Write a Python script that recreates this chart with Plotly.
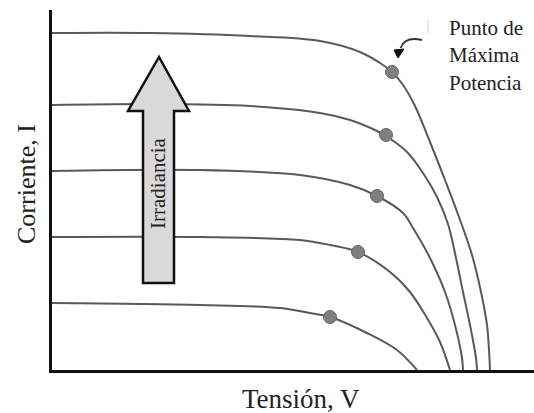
import plotly.graph_objects as go

# I-V curves (arbitrary units), highest irradiance first
v1 = [0, 9.8, 19.8, 26.8, 30.8, 32.8, 34.0, 35.1, 36.3, 37.8, 39.3, 40.7, 42.0, 42.9, 43.5, 43.7, 43.8]
i1 = [8.425, 8.425, 8.35, 8.225, 7.95, 7.675, 7.45, 7.125, 6.6, 5.7, 4.75, 3.825, 2.875, 1.95, 1.125, 0.5, 0]
v2 = [0, 9.8, 19.8, 26.8, 29.8, 32.3, 33.4, 35.5, 37.1, 38.5, 39.6, 40.4, 41.1, 41.8, 42.4, 42.5]
i2 = [6.625, 6.65, 6.6, 6.425, 6.25, 6.0, 5.85, 5.45, 4.925, 4.325, 3.65, 2.8, 1.95, 1.125, 0.3, 0]
v3 = [0, 14.8, 24.8, 29.8, 32.5, 35.1, 36.1, 37.8, 39.3, 40.3, 41.0, 41.1]
i3 = [4.975, 5.0, 4.875, 4.625, 4.35, 3.925, 3.55, 2.8, 1.95, 1.125, 0.3, 0]
v4 = [0, 14.8, 24.8, 27.8, 30.6, 33.8, 35.8, 37.5, 38.8, 39.8]
i4 = [3.325, 3.325, 3.25, 3.125, 2.95, 2.45, 1.95, 1.3, 0.7, 0]
v5 = [0, 14.8, 22.8, 25.8, 27.8, 31.5, 34.5, 36.5]
i5 = [1.675, 1.625, 1.55, 1.425, 1.325, 0.925, 0.5, 0]

# maximum power points
mpp_v = [34.0, 33.4, 32.5, 30.6, 27.8]
mpp_i = [7.45, 5.875, 4.35, 2.95, 1.325]

FONT = "Liberation Serif, Times New Roman, serif"
LINE = "#595959"

fig = go.Figure()
for v, i in [(v1, i1), (v2, i2), (v3, i3), (v4, i4), (v5, i5)]:
    fig.add_trace(go.Scatter(x=v, y=i, mode="lines",
                             line=dict(color=LINE, width=2, shape="spline", smoothing=1.0),
                             hoverinfo="skip", showlegend=False))

fig.add_trace(go.Scatter(x=mpp_v, y=mpp_i, mode="markers",
                         marker=dict(size=13, color="#808080", line=dict(color="#666666", width=1)),
                         showlegend=False, hoverinfo="skip"))

shapes = [
    # Irradiance arrow
    dict(type="path", xref="x", yref="y", layer="above",
         path="M 9.1,2.175 L 9.1,6.475 L 7.6,6.475 L 10.7,7.825 L 13.7,6.475 L 12.2,6.475 L 12.2,2.175 Z",
         fillcolor="#d9d9d9", line=dict(color="#111111", width=2.5)),
    # curved pointer to MPP
    dict(type="path", xref="x", yref="y",
         path="M 37.0,8.25 Q 35.3,8.35 34.85,8.05",
         line=dict(color="#333333", width=1.8)),
    dict(type="path", xref="x", yref="y",
         path="M 34.2,8.0 L 35.2,8.025 L 34.6,7.8 Z",
         fillcolor="#111111", line=dict(color="#111111", width=1)),
    # faint artifact tick
    dict(type="line", xref="x", yref="y", x0=37.6, x1=37.6, y0=8.425, y1=8.75,
         line=dict(color="#d0d0d0", width=1)),
]

annotations = [
    dict(text="Irradiancia", x=10.6, y=4.675, xref="x", yref="y", textangle=-90,
         xanchor="center", yanchor="middle",
         showarrow=False, font=dict(family=FONT, size=21, color="#222222")),
    dict(text="Punto de<br>Máxima<br>Potencia", x=(447 - 52) / 482, y=(370 - 14) / 360,
         xref="paper", yref="paper", xanchor="left", yanchor="top", align="left",
         showarrow=False, font=dict(family=FONT, size=21, color="#222222")),
    dict(text="Corriente, I", x=(27 - 52) / 482, y=(370 - 184) / 360, xref="paper", yref="paper",
         xanchor="center", yanchor="middle",
         textangle=-90, showarrow=False, font=dict(family=FONT, size=26, color="#222222")),
    dict(text="Tensión, V", x=(301 - 52) / 482, y=(370 - 399) / 360, xref="paper", yref="paper",
         xanchor="center", yanchor="middle",
         showarrow=False, font=dict(family=FONT, size=27, color="#222222")),
]

fig.update_layout(
    width=534, height=413,
    margin=dict(l=52, r=0, t=10, b=43),
    paper_bgcolor="white", plot_bgcolor="white",
    shapes=shapes, annotations=annotations,
    xaxis=dict(range=[0, 48.2], showgrid=False, zeroline=False, showticklabels=False,
               ticks="", showline=True, linecolor="#111111", linewidth=3, fixedrange=True),
    yaxis=dict(range=[0, 9], showgrid=False, zeroline=False, showticklabels=False,
               ticks="", showline=True, linecolor="#111111", linewidth=3, fixedrange=True),
)

fig.write_html("out.html", config={"displayModeBar": False},
               post_script="document.body.style.margin='0';document.body.style.overflow='hidden';")
